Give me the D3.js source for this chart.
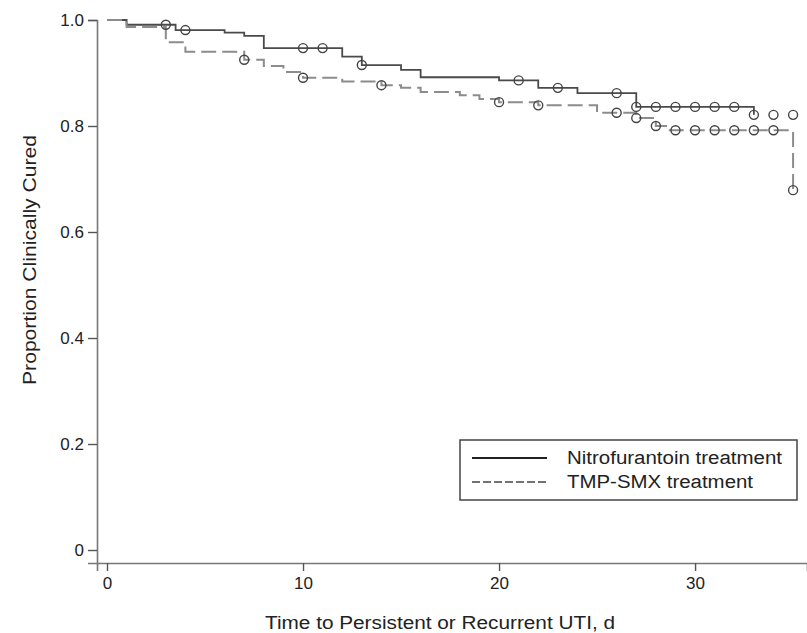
<!DOCTYPE html>
<html>
<head>
<meta charset="utf-8">
<script src="https://cdn.jsdelivr.net/npm/d3@7"></script>
<style>
  body { margin: 0; background: #fff; }
  text { font-family: "Liberation Sans", Arial, sans-serif; fill: #222; }
</style>
</head>
<body>
<div id="chart"></div>
<script>
// Kaplan-Meier steps (days, proportion cured)
var nitroTimes  = [0, 1, 3.5, 6, 7, 8, 12, 13, 15, 16, 20, 22, 24, 27, 33];
var nitroSurv   = [1, 0.991, 0.981, 0.976, 0.970, 0.947, 0.931, 0.915, 0.906, 0.892, 0.886, 0.872, 0.862, 0.836, 0.821];
var nitroCensor = [3, 4, 10, 11, 13, 21, 23, 26, 27, 28, 29, 30, 31, 32, 33, 34, 35];

var tmpTimes  = [0, 1, 3, 4, 7, 8, 9, 10, 12, 14, 15, 16, 18, 19, 20, 22, 25, 27, 28, 28.6, 35];
var tmpSurv   = [1, 0.987, 0.958, 0.940, 0.925, 0.913, 0.902, 0.891, 0.884, 0.877, 0.872, 0.864, 0.858, 0.851, 0.845, 0.839, 0.825, 0.815, 0.800, 0.792, 0.679];
var tmpCensor = [7, 10, 14, 20, 22, 26, 27, 28, 29, 30, 31, 32, 33, 34, 35];

var xTicks = [0, 10, 20, 30];
var yTicks = [0, 0.2, 0.4, 0.6, 0.8, 1.0];
var legendLabels = ['Nitrofurantoin treatment', 'TMP-SMX treatment'];

var width  = 807;
var height = 633;

var svg = d3.select('#chart').append('svg')
  .attr('width', width)
  .attr('height', height);

// x: day 0 at 107px, 19.6px per day; axis runs 97..807
var xScale = d3.scaleLinear()
  .domain([-0.51, 35.71])
  .range([97, 807]);

// y: 1.0 at 20px, 0 at 550px; axis line continues to 563
var yScale = d3.scaleLinear()
  .domain([-0.0245, 1])
  .range([563, 20]);

// survival value at time t (step function)
function survAt(times, surv, t) {
  var v = surv[0];
  for (var i = 0; i < times.length; i++) {
    if (times[i] <= t) v = surv[i];
  }
  return v;
}

function makePoints(times, surv) {
  return times.map(function(t, i) { return [t, surv[i]]; });
}

var line = d3.line()
  .x(function(d) { return xScale(d[0]); })
  .y(function(d) { return yScale(d[1]); })
  .curve(d3.curveStepAfter);

// axes
var xAxis = d3.axisBottom(xScale)
  .tickValues(xTicks)
  .tickFormat(d3.format('d'))
  .tickSizeOuter(0)
  .tickSize(8)
  .tickPadding(6);

var yAxis = d3.axisLeft(yScale)
  .tickValues(yTicks)
  .tickFormat(function(d) { return d === 0 ? '0' : d3.format('.1f')(d); })
  .tickSizeOuter(0)
  .tickSize(9)
  .tickPadding(4);

var xg = svg.append('g')
  .attr('transform', 'translate(0,563)')
  .call(xAxis);

var yg = svg.append('g')
  .attr('transform', 'translate(97,0)')
  .call(yAxis);

[xg, yg].forEach(function(g) {
  g.select('.domain').attr('stroke', '#777').attr('stroke-width', 1.6);
  g.selectAll('.tick line').attr('stroke', '#555').attr('stroke-width', 1.4);
  g.selectAll('.tick text')
    .style('font-family', '"Liberation Sans", Arial, sans-serif')
    .style('font-size', '17px')
    .attr('fill', '#222');
});

// curves
svg.append('path')
  .datum(makePoints(nitroTimes, nitroSurv))
  .attr('d', line)
  .attr('fill', 'none')
  .attr('stroke', '#4a4a4a')
  .attr('stroke-width', 1.8);

svg.append('path')
  .datum(makePoints(tmpTimes, tmpSurv))
  .attr('d', line)
  .attr('fill', 'none')
  .attr('stroke', '#8c8c8c')
  .attr('stroke-width', 2)
  .attr('stroke-dasharray', '15,6');

// censor marks
function drawCensor(censor, times, surv) {
  svg.append('g').selectAll('circle')
    .data(censor)
    .enter().append('circle')
      .attr('cx', function(d) { return xScale(d); })
      .attr('cy', function(d) { return yScale(survAt(times, surv, d)); })
      .attr('r', 4.5)
      .attr('fill', 'none')
      .attr('stroke', '#444')
      .attr('stroke-width', 1.4);
}
drawCensor(nitroCensor, nitroTimes, nitroSurv);
drawCensor(tmpCensor, tmpTimes, tmpSurv);

// legend
var legend = svg.append('g');
legend.append('rect')
  .attr('x', 460).attr('y', 440)
  .attr('width', 337).attr('height', 60)
  .attr('fill', '#fff')
  .attr('stroke', '#444')
  .attr('stroke-width', 1.5);

legend.append('line')
  .attr('x1', 472).attr('x2', 547)
  .attr('y1', 458).attr('y2', 458)
  .attr('stroke', '#222').attr('stroke-width', 2.2);

legend.append('line')
  .attr('x1', 472).attr('x2', 547)
  .attr('y1', 482).attr('y2', 482)
  .attr('stroke', '#444').attr('stroke-width', 1.3)
  .attr('stroke-dasharray', '8,3');

var legendWidths = [215, 186];
legend.selectAll('text.lab')
  .data(legendLabels)
  .enter().append('text')
    .attr('class', 'lab')
    .attr('x', 567)
    .attr('y', function(d, i) { return 464 + i * 24; })
    .style('font-size', '18px')
    .attr('textLength', function(d, i) { return legendWidths[i]; })
    .attr('lengthAdjust', 'spacingAndGlyphs')
    .text(function(d) { return d; });

// axis titles
svg.append('text')
  .attr('transform', 'translate(36,260) rotate(-90)')
  .style('text-anchor', 'middle')
  .style('font-size', '18px')
  .attr('textLength', 250)
  .attr('lengthAdjust', 'spacingAndGlyphs')
  .text('Proportion Clinically Cured');

svg.append('text')
  .attr('x', 440)
  .attr('y', 629)
  .style('text-anchor', 'middle')
  .style('font-size', '18px')
  .attr('textLength', 350)
  .attr('lengthAdjust', 'spacingAndGlyphs')
  .text('Time to Persistent or Recurrent UTI, d');
</script>
</body>
</html>
